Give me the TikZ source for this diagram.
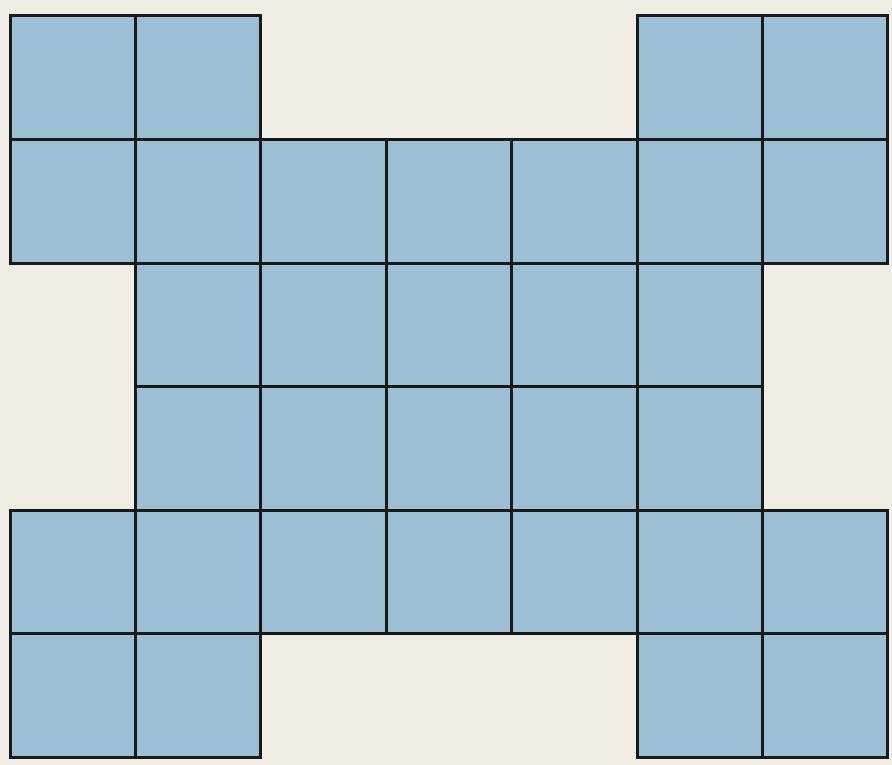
\documentclass[tikz,border=0pt]{standalone}
\usepackage{xcolor}
\definecolor{tileblue}{RGB}{156,191,213}
\definecolor{paper}{RGB}{240,237,228}

\begin{document}
\begin{tikzpicture}[x=1pt,y=-1pt,
          tilefill/.style={fill=tileblue},
          tileedge/.style={draw=black!90,line width=3pt}]
        \fill[paper] (0,0) rectangle (892,765);
        % filled cells, row by row: fill first, then the edges
        \foreach \r/\cols in {0/{0,1,5,6},1/{0,...,6},2/{1,...,5},
                              3/{1,...,5},4/{0,...,6},5/{0,1,5,6}}
          \foreach \c in \cols
            \fill[tilefill] ({10+125.4*\c},{16+123.5*\r}) rectangle ++(125.4,123.5);
        \foreach \r/\cols in {0/{0,1,5,6},1/{0,...,6},2/{1,...,5},
                              3/{1,...,5},4/{0,...,6},5/{0,1,5,6}}
          \foreach \c in \cols
            \draw[tileedge] ({10+125.4*\c},{16+123.5*\r}) rectangle ++(125.4,123.5);
      \end{tikzpicture}
\end{document}
